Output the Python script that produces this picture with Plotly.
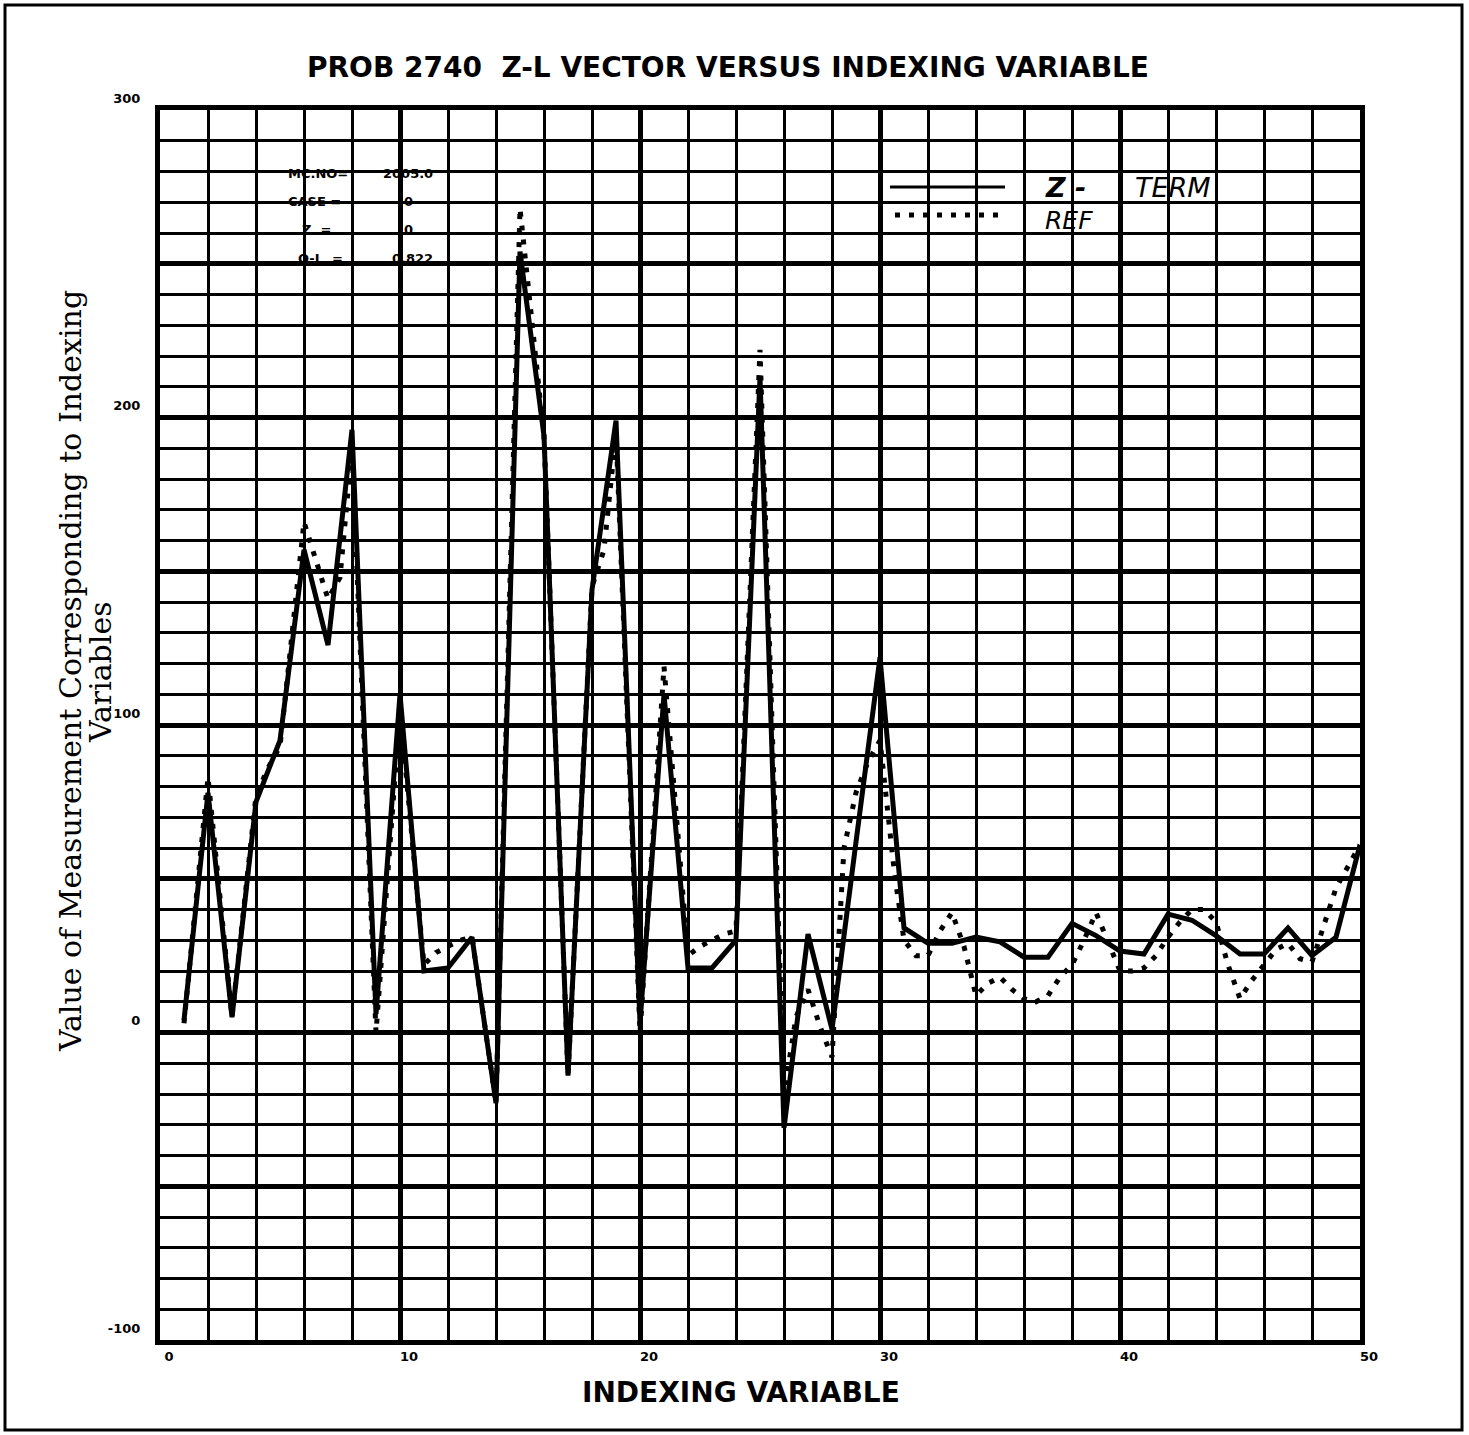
import plotly.graph_objects as go

# ---- data ----
zterm_x = list(range(1, 51))
zterm_y = [4, 78, 5, 75, 95, 157, 126, 196, 6, 110,
           20, 21, 31, -23, 254, 194, -14, 144, 199, 3,
           110, 21, 21, 30, 213, -31, 32, 1, 62, 122,
           34, 29, 29, 31, 29.5, 24.5, 24.5, 35.5, 31.5, 26.5,
           25.5, 38.5, 36.5, 31.5, 25.5, 25.5, 34, 25, 31, 61]

ref_x = [1, 2, 3, 4, 4.5, 5, 6, 6.5, 7, 7.5, 8, 9, 10, 11, 11.5, 12, 12.5, 13, 14,
         15, 15.5, 16, 17, 18, 18.5, 19, 20, 21, 22, 22.5, 23, 23.5, 24, 25, 26,
         26.5, 27, 27.5, 28, 28.5, 29, 29.5, 30, 30.3, 30.6, 31, 31.5, 32, 32.5,
         33, 33.5, 34, 34.5, 35, 35.5, 36, 36.5, 37, 37.5, 38, 38.5, 39, 39.5,
         40, 40.5, 41, 41.5, 42, 42.5, 43, 43.5, 44, 44.5, 45, 45.5, 46, 46.5,
         47, 47.5, 48, 48.5, 49, 49.5, 50]
ref_y = [3, 83, 5, 77, 86, 93, 166, 154, 141, 148, 190, 0, 105, 22, 26, 28, 30, 31, -23,
         268, 232, 194, -14, 145, 157, 195, 0, 119, 25, 28, 30, 32, 33, 222, -20,
         5, 14, 2, -8, 60, 78, 88, 95, 74, 52, 30, 25, 25, 33,
         39, 28, 12, 16, 18, 14, 11, 10, 12, 18, 22, 30, 39, 30,
         20, 20, 21, 25, 31, 36, 40, 40, 36, 22, 11, 17, 22, 27,
         29, 24, 23, 35, 47, 54, 61]

y_tickvals = [-100, -50, 0, 50, 100, 150, 200, 250, 300]
y_ticktext = ["-100", "", "0", "", "100", "", "200", "", "300"]
x_tickvals = [0, 10, 20, 30, 40, 50]
x_ticktext = ["0", "10", "20", "30", "40", "50"]

title_text = "PROB 2740  Z-L VECTOR VERSUS INDEXING VARIABLE"
xlabel = "INDEXING VARIABLE"
ylabel1 = "Value of Measurement Corresponding to Indexing"
ylabel2 = "Variables"
info_labels = ["MC.NO=", "CASE =", "Z  =", "Q-L  ="]
info_values = ["2005.0", "0", "0", "0.822"]
legend_names = ["Z -", "TERM", "REF"]

# ---- layout geometry ----
W, H = 1469, 1435
L, R, T, B = 160, 109, 110, 95
PW, PH = W - L - R, H - T - B

def px(x):
    return (x - L) / PW

def py(y):
    return (H - B - y) / PH

fig = go.Figure()
fig.add_trace(go.Scatter(x=ref_x, y=ref_y, mode="lines",
                         line=dict(color="black", width=5, dash="5px,9px"),
                         name="REF", showlegend=False))
fig.add_trace(go.Scatter(x=zterm_x, y=zterm_y, mode="lines",
                         line=dict(color="black", width=5),
                         name="Z - TERM", showlegend=False))

tickfont = dict(family="DejaVu Sans", size=13, color="black", weight="bold")

fig.update_xaxes(range=[0, 50], tickvals=x_tickvals, ticktext=x_ticktext,
                 showgrid=True, gridcolor="black", gridwidth=5,
                 minor=dict(dtick=2, showgrid=True, gridcolor="black", gridwidth=3),
                 showline=True, linecolor="black", linewidth=5, mirror=True,
                 zeroline=False, ticks="", tickfont=tickfont,
                 ticklabelshift=9, ticklabelstandoff=0)
fig.update_yaxes(range=[-100, 300], tickvals=y_tickvals, ticktext=y_ticktext,
                 showgrid=True, gridcolor="black", gridwidth=5,
                 minor=dict(dtick=10, showgrid=True, gridcolor="black", gridwidth=3),
                 showline=True, linecolor="black", linewidth=5, mirror=True,
                 zeroline=False, ticks="", tickfont=tickfont,
                 ticklabelshift=-12, ticklabelstandoff=12)


def ann(text, x, y, size, family="DejaVu Sans", xanchor="center", angle=0):
    return dict(text=text, x=px(x), y=py(y), xref="paper", yref="paper",
                showarrow=False, xanchor=xanchor, yanchor="middle",
                textangle=angle,
                font=dict(family=family, size=size, color="black"))


annotations = []
annotations.append(ann("<b>" + title_text + "</b>", 728, 67, 28))
annotations.append(ann("<b>" + xlabel + "</b>", 741, 1393, 28))
annotations.append(ann(ylabel1, 70, 671, 30, family="DejaVu Serif", angle=-90))
annotations.append(ann(ylabel2, 100, 672, 30, family="DejaVu Serif", angle=-90))

# info block
info_y = [173, 201, 229, 258]
info_lx = [286, 286, 300, 296]
info_rx = [435, 415, 415, 435]
for lab, val, yy, lx, rx in zip(info_labels, info_values, info_y, info_lx, info_rx):
    annotations.append(ann("<b>" + lab + "</b>", lx, yy, 13, xanchor="left"))
    annotations.append(ann("<b>" + val + "</b>", rx, yy, 13, xanchor="right"))

# legend text
annotations.append(ann("<i><b>" + legend_names[0] + "</b></i>", 1043, 188, 27, xanchor="left"))
annotations.append(ann("<i>" + legend_names[1] + "</i>", 1133, 188, 27, xanchor="left"))
annotations.append(ann("<i>" + legend_names[2] + "</i>", 1043, 221, 25, xanchor="left"))

shapes = [
    # outer page frame
    dict(type="rect", xref="paper", yref="paper",
         x0=px(5), x1=px(1462), y0=py(1430), y1=py(5),
         line=dict(color="black", width=3)),
    # legend keys
    dict(type="line", xref="paper", yref="paper",
         x0=px(890), x1=px(1005), y0=py(187), y1=py(187),
         line=dict(color="black", width=3)),
    dict(type="line", xref="paper", yref="paper",
         x0=px(895), x1=px(1000), y0=py(215), y1=py(215),
         line=dict(color="black", width=5, dash="5px,9px")),
]

fig.update_layout(width=W, height=H,
                  margin=dict(l=L, r=R, t=T, b=B),
                  paper_bgcolor="white", plot_bgcolor="white",
                  annotations=annotations, shapes=shapes, showlegend=False)

fig.write_html("out.html")
